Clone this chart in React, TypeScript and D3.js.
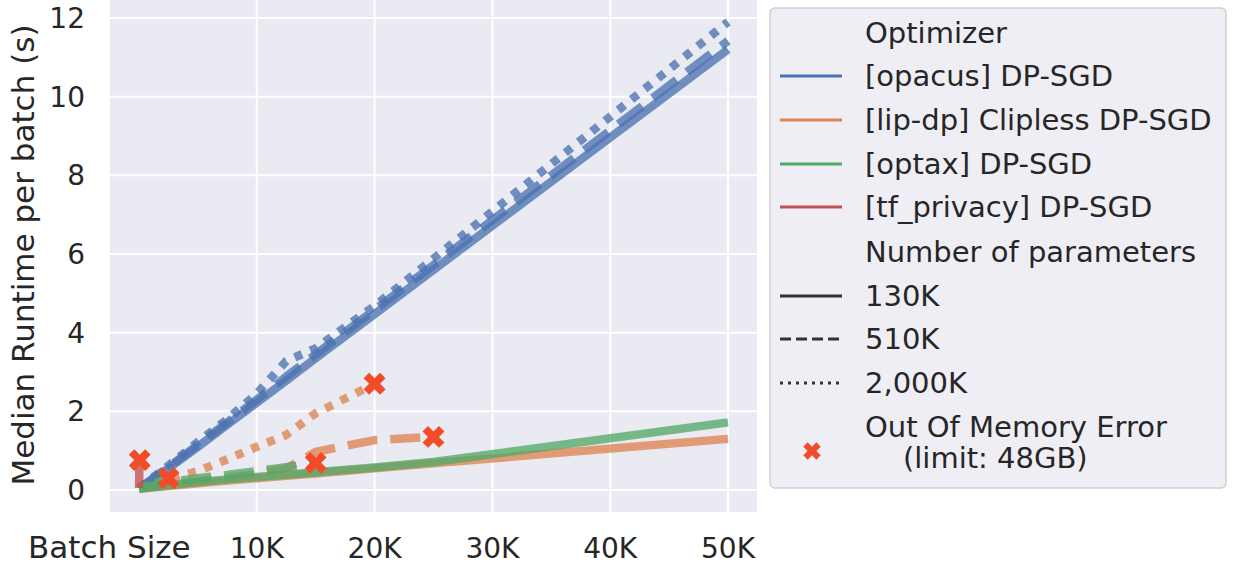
import React from "react";
import * as d3 from "d3";

// ---- data ----
const batchSizes = [16, 2500, 5000, 7500, 10000, 12500, 15000, 20000, 25000, 50000];
const tfBatchSizes = [8, 16, 32, 64];

const opacus130K = [0.03, 0.55, 1.1, 1.66, 2.22, 2.78, 3.35, 4.47, 5.6, 11.2];
const opacus510K = [0.04, 0.58, 1.15, 1.72, 2.3, 2.88, 3.45, 4.58, 5.72, 11.42];
const opacus2000K = [0.05, 0.62, 1.22, 1.8, 2.45, 3.28, 3.6, 4.68, 5.88, 11.9];

const lipdp130K = [0.03, 0.1, 0.17, 0.24, 0.3, 0.36, 0.42, 0.55, 0.68, 1.3];
const lipdp510K = [0.04, 0.13, 0.22, 0.31, 0.4, 0.55, 0.97, 1.27, 1.35, null];
const lipdp2000K = [0.05, 0.27, 0.48, 0.78, 1.1, 1.4, 1.95, 2.7, null, null];

const optax130K = [0.03, 0.12, 0.2, 0.27, 0.33, 0.39, 0.45, 0.57, 0.71, 1.72];
const optax510K = [0.04, 0.2, 0.3, 0.38, 0.48, 0.58, 0.69, null, null, null];
const optax2000K = [0.05, 0.3, null, null, null, null, null, null, null, null];

const tfPrivacy130K = [0.05, 0.25, 0.5, 0.76];

const optimizers = ["[opacus] DP-SGD", "[lip-dp] Clipless DP-SGD", "[optax] DP-SGD", "[tf_privacy] DP-SGD"];
const optimizerColors = ["#4c72b0", "#dd8452", "#55a868", "#c44e52"];
const paramLabels = ["130K", "510K", "2,000K"];
const yTicks = [0, 2, 4, 6, 8, 10, 12];
const xTicks = [10000, 20000, 30000, 40000, 50000];
const xTickLabels = ["10K", "20K", "30K", "40K", "50K"];

type Series = { opt: number; param: number; xs: number[]; ys: (number | null)[]; oom: boolean };
const series: Series[] = [
  { opt: 0, param: 0, xs: batchSizes, ys: opacus130K, oom: false },
  { opt: 0, param: 1, xs: batchSizes, ys: opacus510K, oom: false },
  { opt: 0, param: 2, xs: batchSizes, ys: opacus2000K, oom: false },
  { opt: 1, param: 0, xs: batchSizes, ys: lipdp130K, oom: false },
  { opt: 1, param: 1, xs: batchSizes, ys: lipdp510K, oom: true },
  { opt: 1, param: 2, xs: batchSizes, ys: lipdp2000K, oom: true },
  { opt: 2, param: 0, xs: batchSizes, ys: optax130K, oom: false },
  { opt: 2, param: 1, xs: batchSizes, ys: optax510K, oom: true },
  { opt: 2, param: 2, xs: batchSizes, ys: optax2000K, oom: true },
  { opt: 3, param: 0, xs: tfBatchSizes, ys: tfPrivacy130K, oom: true },
];

const dashes = ["none", "30,13", "8,9"];
const legendDashes = ["none", "11,5", "3,5"];
const OOM_COLOR = "#f14b28";
const TEXT = "#262626";
const FONT = "DejaVu Sans, sans-serif";

export default function App() {
  const W = 1234, H = 567;
  const left = 110, right = 757, top = 0, bottom = 512;
  const y0px = 490, y12px = 18;
  const perUnit = (y0px - y12px) / 12;
  const x0px = 139, x50px = 728;
  const perK = (x50px - x0px) / 50000;

  const x = d3.scaleLinear()
    .domain([(left - x0px) / perK, (right - x0px) / perK])
    .range([left, right]);
  const y = d3.scaleLinear()
    .domain([(y0px - bottom) / perUnit, (y0px - top) / perUnit])
    .range([bottom, top]);

  const line = d3.line<[number, number]>().x(d => x(d[0])).y(d => y(d[1]));
  const cross = d3.symbol().type(d3.symbolCross).size(300)();
  const legendCross = d3.symbol().type(d3.symbolCross).size(190)();

  const pts = (s: Series) =>
    s.xs.map((bx, i) => [bx, s.ys[i]] as [number, number | null]).filter(p => p[1] !== null) as [number, number][];

  const legendX = 770, legendY = 8, legendW = 456, legendH = 480;
  const handleX1 = 780, handleX2 = 842, textX = 865;
  const rowY = [33, 76, 120, 164, 207, 252, 296, 339, 383];

  return (
    <svg width={W} height={H} style={{ position: "absolute", left: 0, top: 0, background: "white" }} fontFamily={FONT}>
      <defs>
        <clipPath id="plotclip">
          <rect x={left} y={top} width={right - left} height={bottom - top} />
        </clipPath>
      </defs>
      <rect x={left} y={top} width={right - left} height={bottom - top} fill="#eaeaf2" />
      {yTicks.map(t => (
        <line key={"gy" + t} x1={left} x2={right} y1={y(t)} y2={y(t)} stroke="white" strokeWidth={2} />
      ))}
      {xTicks.map(t => (
        <line key={"gx" + t} x1={x(t)} x2={x(t)} y1={top} y2={bottom} stroke="white" strokeWidth={2} />
      ))}
      <g clipPath="url(#plotclip)">
        {series.map((s, i) => (
          <path key={"s" + i} d={line(pts(s)) || ""} fill="none" stroke={optimizerColors[s.opt]}
            strokeWidth={8.5} strokeOpacity={0.78} strokeDasharray={dashes[s.param]}
            strokeLinecap="butt" strokeLinejoin="round" />
        ))}
        {series.filter(s => s.oom).map((s, i) => {
          const p = pts(s);
          const last = p[p.length - 1];
          return (
            <path key={"o" + i} d={cross || ""} fill={OOM_COLOR}
              transform={`translate(${x(last[0])},${y(last[1])}) rotate(45)`} />
          );
        })}
      </g>
      {yTicks.map(t => (
        <text key={"ty" + t} x={85} y={y(t)} dy="0.36em" textAnchor="end" fontSize={28} fill={TEXT}>{t}</text>
      ))}
      {xTicks.map((t, i) => (
        <text key={"tx" + t} x={x(t)} y={558} textAnchor="middle" fontSize={28} fill={TEXT}>{xTickLabels[i]}</text>
      ))}
      <text x={28} y={558} fontSize={31} fill={TEXT}>Batch Size</text>
      <text transform={`translate(34,255) rotate(-90)`} textAnchor="middle" fontSize={31} fill={TEXT}>
        Median Runtime per batch (s)
      </text>

      {/* legend */}
      <rect x={legendX} y={legendY} width={legendW} height={legendH} rx={5} fill="#eeeef4" stroke="#cfcfd4" strokeWidth={1.5} />
      <text x={textX} y={rowY[0]} dy="0.36em" fontSize={29} fill={TEXT}>Optimizer</text>
      {optimizers.map((o, i) => (
        <g key={"lo" + i}>
          <line x1={handleX1} x2={handleX2} y1={rowY[i + 1]} y2={rowY[i + 1]} stroke={optimizerColors[i]} strokeWidth={3} />
          <text x={textX} y={rowY[i + 1]} dy="0.36em" fontSize={29} fill={TEXT}>{o}</text>
        </g>
      ))}
      <text x={textX} y={rowY[5]} dy="0.36em" fontSize={29} fill={TEXT}>Number of parameters</text>
      {paramLabels.map((p, i) => (
        <g key={"lp" + i}>
          <line x1={handleX1} x2={handleX2} y1={rowY[i + 6]} y2={rowY[i + 6]} stroke="#333" strokeWidth={3}
            strokeDasharray={legendDashes[i]} />
          <text x={textX} y={rowY[i + 6]} dy="0.36em" fontSize={29} fill={TEXT}>{p}</text>
        </g>
      ))}
      <path d={legendCross || ""} fill={OOM_COLOR} transform="translate(812,451) rotate(45)" />
      <text x={textX} y={427} dy="0.36em" fontSize={29} fill={TEXT}>Out Of Memory Error</text>
      <text x={903} y={458} dy="0.36em" fontSize={29} fill={TEXT}>(limit: 48GB)</text>
    </svg>
  );
}
